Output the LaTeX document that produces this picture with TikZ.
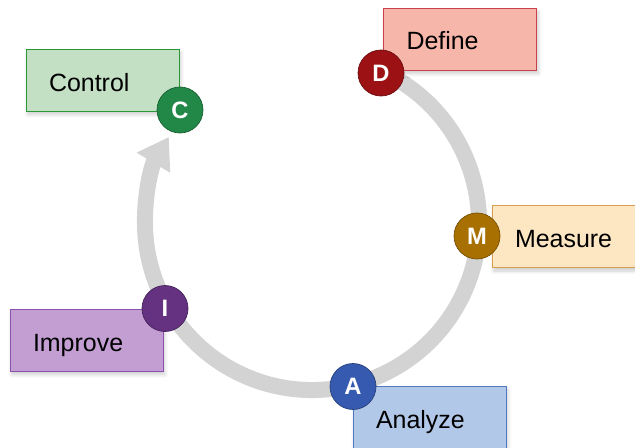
\documentclass[tikz,border=0pt]{standalone}
\usepackage{fontspec}
\setmainfont{Liberation Sans}
\usetikzlibrary{arrows.meta,shadows.blur}
\definecolor{ringgray}{RGB}{211,211,211}
\definecolor{definefill}{RGB}{246,182,170}
\definecolor{defineline}{RGB}{200,64,72}
\definecolor{definedot}{RGB}{155,17,20}
\definecolor{measurefill}{RGB}{253,230,194}
\definecolor{measureline}{RGB}{214,160,80}
\definecolor{measuredot}{RGB}{168,112,0}
\definecolor{analyzefill}{RGB}{178,200,232}
\definecolor{analyzeline}{RGB}{80,120,190}
\definecolor{analyzedot}{RGB}{54,90,175}
\definecolor{improvefill}{RGB}{194,158,210}
\definecolor{improveline}{RGB}{140,80,170}
\definecolor{improvedot}{RGB}{100,50,128}
\definecolor{controlfill}{RGB}{196,224,196}
\definecolor{controlline}{RGB}{40,150,50}
\definecolor{controldot}{RGB}{34,136,72}

\begin{document}
\begin{tikzpicture}[
    phase/.style={rectangle, thin, minimum height=1.24cm, text width=2.14cm, inner xsep=0.46cm,
                  text height=0.48cm, text depth=0.04cm,
                  align=left, font=\fontsize{14.2}{17}\selectfont,
                  blur shadow={shadow xshift=1pt, shadow yshift=-2pt, shadow opacity=20, shadow blur steps=6}},
    letter/.style={circle, thin, minimum size=0.92cm, inner sep=0pt, text=white,
                   font=\bfseries\fontsize{13.5}{16}\selectfont},
    cycle/.style={line width=0.32cm, draw=ringgray, -{Triangle[width=0.74cm, length=0.6cm]}}
]
\clip (0,0) rectangle (12.7,8.94);

% Ring
\coordinate (hub) at (6.24,4.48);
\coordinate (ringstart) at ([shift={(65:3.34)}]hub);
\draw[cycle] (ringstart) arc[start angle=65, end angle=-211, radius=3.34cm];

% Phases
\node[phase, fill=definefill, draw=defineline] (define) at (9.2, 8.16) {Define};
\node[phase, fill=measurefill, draw=measureline] (measure) at (11.37, 4.21) {Measure};
\node[phase, fill=analyzefill, draw=analyzeline] (analyze) at (8.59, 0.6) {Analyze};
\node[phase, fill=improvefill, draw=improveline] (improve) at (1.73, 2.14) {Improve};
\node[phase, fill=controlfill, draw=controlline] (control) at (2.05, 7.34) {Control};

% Letters
\node[letter, fill=definedot, draw=definedot!70!black] (d) at (7.62, 7.48) {D};
\node[letter, fill=measuredot, draw=measuredot!70!black] (m) at (9.54, 4.22) {M};
\node[letter, fill=analyzedot, draw=analyzedot!70!black] (a) at (7.06, 1.21) {A};
\node[letter, fill=improvedot, draw=improvedot!70!black] (i) at (3.30, 2.77) {I};
\node[letter, fill=controldot, draw=controldot!70!black] (c) at (3.60, 6.74) {C};

\end{tikzpicture}
\end{document}
